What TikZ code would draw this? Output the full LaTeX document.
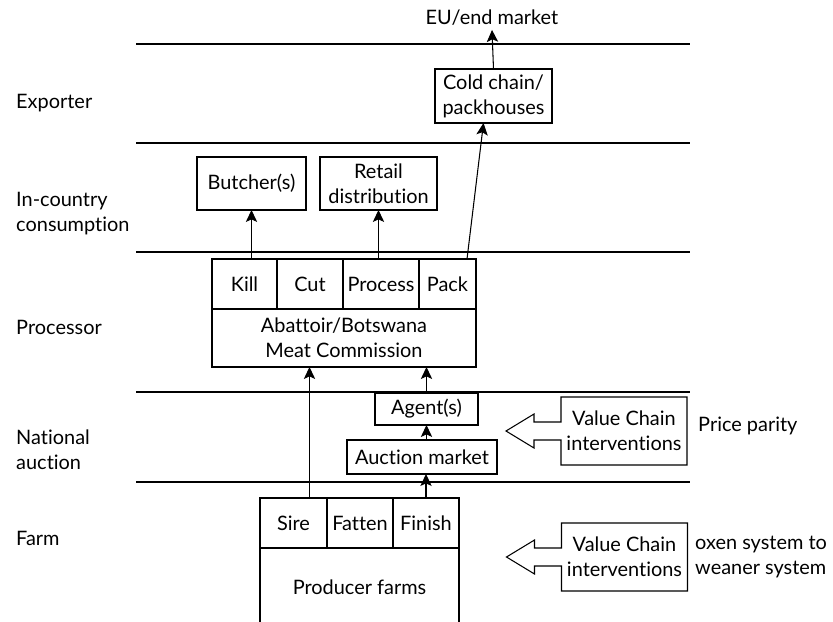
\documentclass[tikz,border=0pt]{standalone}
\usepackage{fontspec}
\setmainfont{Lato}[Ligatures=NoCommon]
\usetikzlibrary{positioning,arrows.meta,calc}
\tikzset{
  fig/.style={font=\fontsize{17}{21.3}\selectfont},
  box/.style={draw,line width=0.9pt,align=center,inner sep=1pt,outer sep=0pt},
  cell/.style={box,minimum height=1.5cm},
  vcbox/.style={align=center,inner sep=1pt,outer sep=0pt,
                minimum width=3.78cm,minimum height=2.04cm},
  ln/.style={-{Stealth[length=3.6mm,width=3.4mm,inset=0.8mm]},line width=0.9pt},
  rule/.style={line width=0.9pt},
  lbl/.style={anchor=west,align=left,inner sep=0pt},
}

\begin{document}
\begin{tikzpicture}[fig,x=0.03cm,y=-0.03cm]
\useasboundingbox (0,0) rectangle (833,622);

% band rules
\foreach \y in {44,143,252,392,482}
  \draw[rule] (136,\y) -- (690,\y);

% row labels
\node[lbl] (lexp)  at (16,103) {Exporter};
\node[lbl] (lcons) at (16,214) {In-country\\consumption};
\node[lbl] (lproc) at (16,327) {Processor};
\node[lbl] (lauct) at (16,450) {National\\auction};
\node[lbl] (lfarm) at (16,538) {Farm};

% exporter
\node (eu) at (492,18) {EU/end market};
\node[box,minimum width=3.51cm,minimum height=1.62cm] (cold) at (493.5,96) {Cold chain/\\packhouses};

% in-country consumption
\node[box,minimum width=3.27cm,minimum height=1.59cm] (butch) at (251.5,183.5) {Butcher(s)};
\node[box,minimum width=3.51cm,minimum height=1.59cm] (retail) at (378.5,183.5) {Retail\\distribution};

% processor
\node[cell,minimum width=1.95cm] (kill) at (244.5,284) {Kill};
\node[cell,minimum width=1.98cm,right=0pt of kill] (cut) {Cut};
\node[cell,minimum width=2.28cm,right=0pt of cut] (proc) {Process};
\node[cell,minimum width=1.71cm,right=0pt of proc] (pack) {Pack};
\node[box,anchor=north west,minimum width=7.92cm,minimum height=1.74cm] (abat)
  at (kill.south west) {Abattoir/Botswana\\Meat Commission};

% national auction
\node[box,minimum width=3.09cm,minimum height=0.96cm] (agent) at (426.5,409) {Agent(s)};
\node[box,minimum width=4.5cm,minimum height=1.02cm] (auct) at (422,457) {Auction market};

% farm
\node[cell,minimum width=2.01cm] (sire) at (293.5,523) {Sire};
\node[cell,minimum width=1.98cm,right=0pt of sire] (fatten) {Fatten};
\node[cell,minimum width=1.98cm,right=0pt of fatten] (finish) {Finish};
\node (prod) at (359.5,587) {Producer farms};
\coordinate (bot) at (0,622);
\draw[rule] (sire.south west) -- (sire.south west |- bot);
\draw[rule] (finish.south east) -- (finish.south east |- bot);

% interventions
\node[vcbox] (vcA) at (624,431) {Value Chain\\interventions};
\node[vcbox] (vcB) at (624.5,557) {Value Chain\\interventions};
\foreach \v in {vcA,vcB}
  \draw[rule] (\v.west) ++(0,-9) -- ++(-27,0) -- ++(0,-8) -- ++(-28,17)
    -- ++(28,17) -- ++(0,-8) -- ++(27,0) |- (\v.south east) |- (\v.north west) -- cycle;
\node[lbl] (parity) at (698,426) {Price parity};
\node[lbl] (oxen) at (695,557) {oxen system to\\weaner system};

% flows
\draw[ln] (kill.north -| butch.south) -- (butch.south);
\draw[ln] (proc.north -| retail.south) -- (retail.south);
\draw[ln] ([xshift=-0.27cm]pack.north east) -- ([xshift=-0.3cm]cold.south);
\draw[ln] (cold.north) -- (eu.south);
\draw[ln] ([xshift=0.48cm]sire.north) coordinate (s1) -- (s1 |- abat.south);
\draw[ln] (agent.north) -- (agent.north |- abat.south);
\draw[ln] (auct.north -| agent.south) -- (agent.south);
\draw[ln] (finish.north) -- (finish.north |- auct.south);

\end{tikzpicture}
\end{document}
